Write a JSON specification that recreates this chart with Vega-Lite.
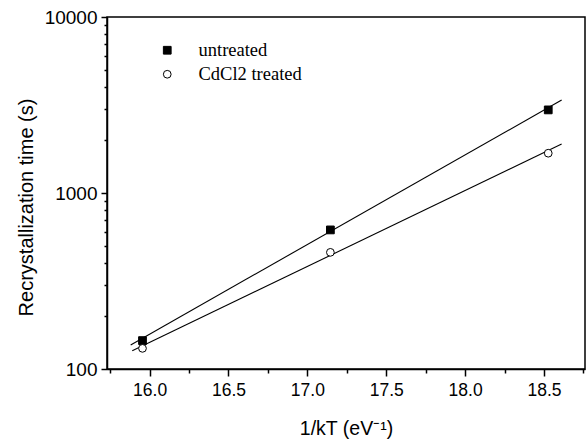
{
  "$schema": "https://vega.github.io/schema/vega-lite/v6.json",
  "width": 478,
  "height": 352,
  "autosize": "none",
  "padding": {"left": 107, "top": 17, "right": 1, "bottom": 72},
  "background": "white",
  "config": {
    "view": {"stroke": "black", "strokeWidth": 1.5},
    "axis": {
      "domain": true, "domainColor": "black", "domainWidth": 1.5,
      "labelColor": "black", "titleColor": "black",
      "labelFont": "Liberation Sans", "titleFont": "Liberation Sans",
      "labelFontSize": 18, "titleFontSize": 19, "titleFontWeight": "normal",
      "grid": false
    }
  },
  "datasets": {
    "points": [
      {"x": 15.955, "t": 145, "series": "untreated"},
      {"x": 17.146, "t": 617, "series": "untreated"},
      {"x": 18.527, "t": 2966, "series": "untreated"},
      {"x": 15.955, "t": 131, "series": "CdCl2 treated"},
      {"x": 17.146, "t": 460, "series": "CdCl2 treated"},
      {"x": 18.527, "t": 1683, "series": "CdCl2 treated"}
    ],
    "fits": [
      {"x": 15.88, "t": 137, "series": "untreated"},
      {"x": 18.612, "t": 3375, "series": "untreated"},
      {"x": 15.89, "t": 127, "series": "CdCl2 treated"},
      {"x": 18.612, "t": 1897, "series": "CdCl2 treated"}
    ]
  },
  "encoding": {
    "x": {
      "field": "x", "type": "quantitative",
      "scale": {"domain": [15.73, 18.76], "nice": false, "zero": false},
      "axis": {
        "orient": "bottom",
        "values": [15.75, 16, 16.25, 16.5, 16.75, 17, 17.25, 17.5, 17.75, 18, 18.25, 18.5, 18.75],
        "labelExpr": "(datum.value * 2) % 1 == 0 ? format(datum.value, '.1f') : ''",
        "ticks": true, "tickColor": "black", "tickWidth": 1.5, "tickOpacity": 1,
        "tickSize": {"condition": {"test": "(datum.value * 2) % 1 == 0", "value": 7}, "value": 4},
        "labelPadding": 5, "labelFontSize": 17.5,
        "title": "1/kT (eV⁻¹)", "titleFontSize": 19.5, "titlePadding": 21
      }
    },
    "y": {
      "field": "t", "type": "quantitative",
      "scale": {"type": "log", "domain": [100, 10000], "nice": false},
      "axis": {
        "orient": "left",
        "values": [100, 200, 300, 400, 500, 600, 700, 800, 900, 1000, 2000, 3000, 4000, 5000, 6000, 7000, 8000, 9000, 10000],
        "labelExpr": "(datum.value == 100 || datum.value == 1000 || datum.value == 10000) ? format(datum.value, 'd') : ''",
        "ticks": true, "tickColor": "black", "tickWidth": 1.5, "tickOpacity": 1,
        "tickSize": {"condition": {"test": "datum.value == 100 || datum.value == 1000 || datum.value == 10000", "value": 6}, "value": 3},
        "labelPadding": 4, "labelFontSize": 19,
        "title": "Recrystallization time (s)", "titleFontSize": 20,
        "titlePadding": 8, "titleY": 190
      }
    }
  },
  "layer": [
    {
      "data": {"name": "fits"},
      "mark": {"type": "line", "color": "black", "strokeWidth": 1.1},
      "encoding": {
        "detail": {"field": "series"}
      }
    },
    {
      "data": {"name": "points"},
      "mark": {"type": "point", "filled": true, "strokeWidth": 1, "size": 60, "opacity": 1},
      "encoding": {
        "shape": {
          "field": "series", "type": "nominal",
          "scale": {"domain": ["untreated", "CdCl2 treated"], "range": ["square", "circle"]},
          "legend": {
            "title": null, "orient": "none", "legendX": 51, "legendY": 24,
            "labelFont": "Liberation Serif", "labelFontSize": 18.5, "labelColor": "black",
            "labelOffset": 22, "rowPadding": 5, "padding": 0,
            "symbolStrokeWidth": 1, "symbolSize": 60
          }
        },
        "fill": {
          "field": "series", "type": "nominal",
          "scale": {"domain": ["untreated", "CdCl2 treated"], "range": ["black", "white"]},
          "legend": {
            "title": null, "orient": "none", "legendX": 51, "legendY": 24,
            "labelFont": "Liberation Serif", "labelFontSize": 18.5, "labelColor": "black",
            "labelOffset": 22, "rowPadding": 5, "padding": 0,
            "symbolStrokeWidth": 1, "symbolSize": 60
          }
        },
        "stroke": {
          "field": "series", "type": "nominal",
          "scale": {"domain": ["untreated", "CdCl2 treated"], "range": ["black", "black"]},
          "legend": {
            "title": null, "orient": "none", "legendX": 51, "legendY": 24,
            "labelFont": "Liberation Serif", "labelFontSize": 18.5, "labelColor": "black",
            "labelOffset": 22, "rowPadding": 5, "padding": 0,
            "symbolStrokeWidth": 1, "symbolSize": 60
          }
        }
      }
    }
  ]
}
